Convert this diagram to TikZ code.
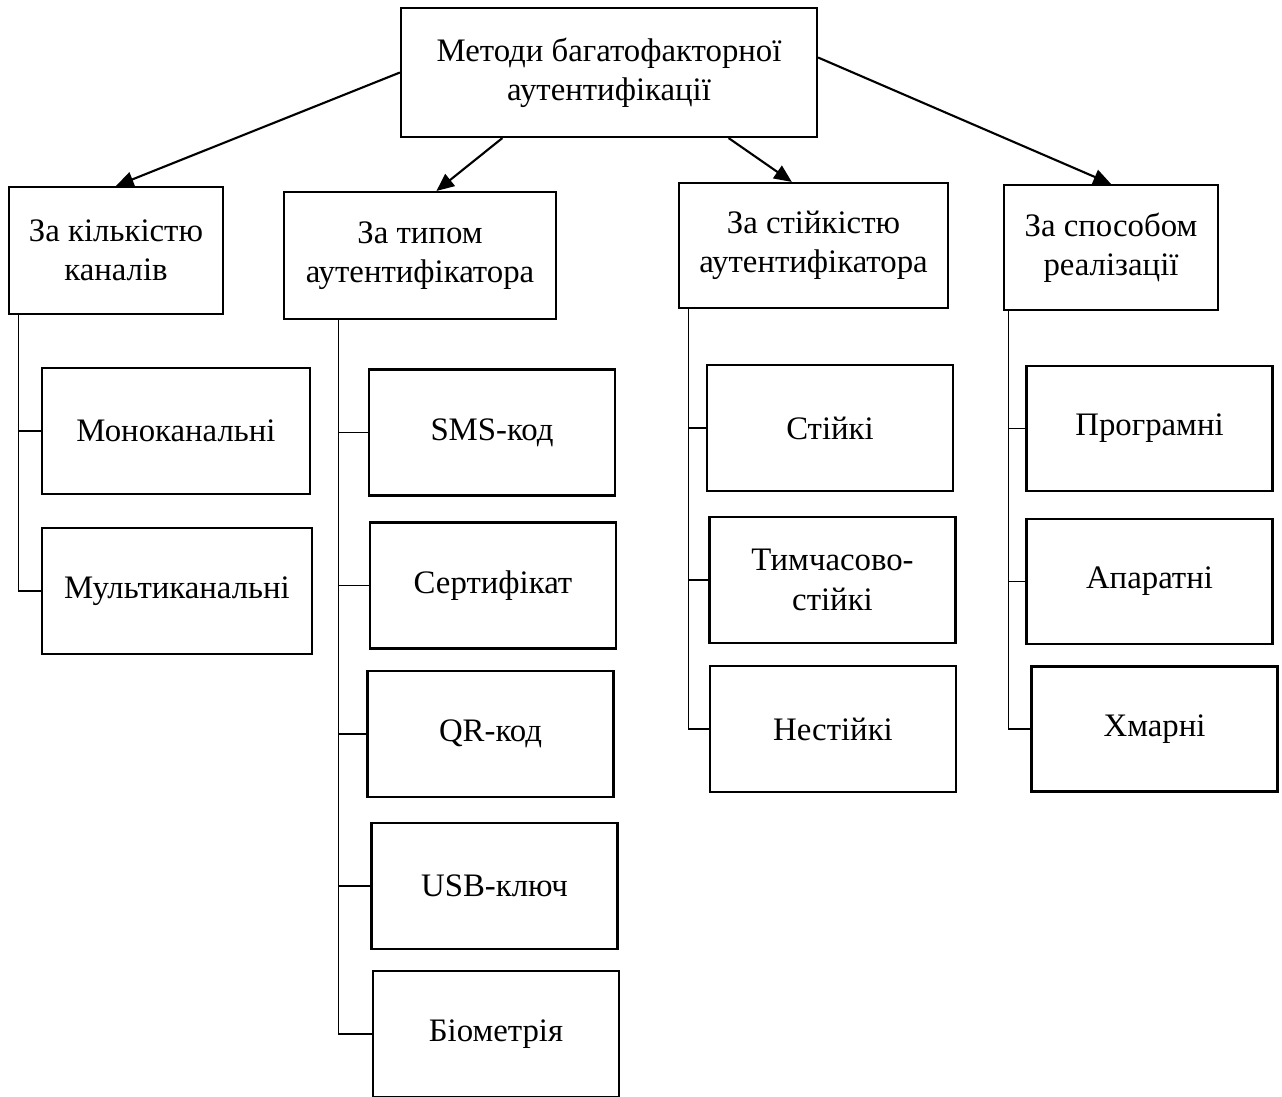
\documentclass[tikz,border=0pt]{standalone}
\usepackage{fontspec}
\setmainfont{Liberation Serif}
\usetikzlibrary{calc, positioning, arrows.meta}

\begin{document}
\begin{tikzpicture}[x=0.015cm, y=-0.015cm,
    box/.style={draw, line width=0.9pt, align=center, inner sep=2pt,
        font=\fontsize{14}{16.8}\selectfont},
    leaf/.style={box, minimum width=3.69cm, minimum height=1.89cm},
    arr/.style={-{Triangle[length=7.5pt, width=6.5pt]}, line width=0.9pt},
    tree/.style={line width=0.45pt}]
\useasboundingbox (0,0) rectangle (1282,1097);
% nodes %
\node[box, minimum width=6.24cm, minimum height=1.935cm] (top) at (609,72.5) {Методи багатофакторної\\аутентифікації};
\node[box, minimum width=3.21cm, minimum height=1.905cm] (kan) at (116,250.5) {За кількістю\\каналів};
\node[box, minimum width=4.08cm, minimum height=1.905cm] (typ) at (420,255.5) {За типом\\аутентифікатора};
\node[box, minimum width=4.035cm, minimum height=1.875cm] (stk) at (813.5,245.5) {За стійкістю\\аутентифікатора};
\node[box, minimum width=3.21cm, minimum height=1.875cm] (spo) at (1111,247.5) {За способом\\реалізації};
% leaves %
\node[leaf, minimum width=4.02cm] (mono) at (176,431) {Моноканальні};
\node[leaf, minimum width=4.05cm] (multi) at (177,591) {Мультиканальні};
\node[leaf] (sms) at (492,432.5) {SMS-код};
\node[leaf] (cert) at (493,585.5) {Сертифікат};
\node[leaf] (qr) at (490.5,734) {QR-код};
\node[leaf] (usb) at (494.5,886) {USB-ключ};
\node[leaf] (bio) at (496,1034) {Біометрія};
\node[leaf] (st) at (830,428) {Стійкі};
\node[leaf] (tst) at (832.5,580) {Тимчасово-\\стійкі};
\node[leaf] (nst) at (833,729) {Нестійкі};
\node[leaf, minimum height=1.875cm] (prog) at (1149.5,428.5) {Програмні};
\node[leaf, minimum height=1.875cm] (apar) at (1149.5,581.5) {Апаратні};
\node[leaf, minimum height=1.875cm] (hmar) at (1154.5,729) {Хмарні};
% spines %
\coordinate (sk) at ([xshift=11*0.015cm]kan.south west);
\coordinate (st0) at ([xshift=56*0.015cm]typ.south west);
\coordinate (ss) at ([xshift=11*0.015cm]stk.south west);
\coordinate (sp) at ([xshift=6*0.015cm]spo.south west);
% edges %
\draw[arr] (top.west) -- (kan.north);
\draw[arr] ($(top.south west)!0.245!(top.south east)$) -- ($(typ.north west)!0.56!(typ.north east)$);
\draw[arr] ($(top.south west)!0.786!(top.south east)$) -- ($(stk.north west)!0.42!(stk.north east)$);
\draw[arr] ([yshift=15*0.015cm]top.east) -- (spo.north);
\foreach \n in {mono, multi} \draw[tree] (sk) |- (\n.west);
\foreach \n in {sms, cert, qr, usb, bio} \draw[tree] (st0) |- (\n.west);
\foreach \n in {st, tst, nst} \draw[tree] (ss) |- (\n.west);
\foreach \n in {prog, apar, hmar} \draw[tree] (sp) |- (\n.west);
\end{tikzpicture}
\end{document}
